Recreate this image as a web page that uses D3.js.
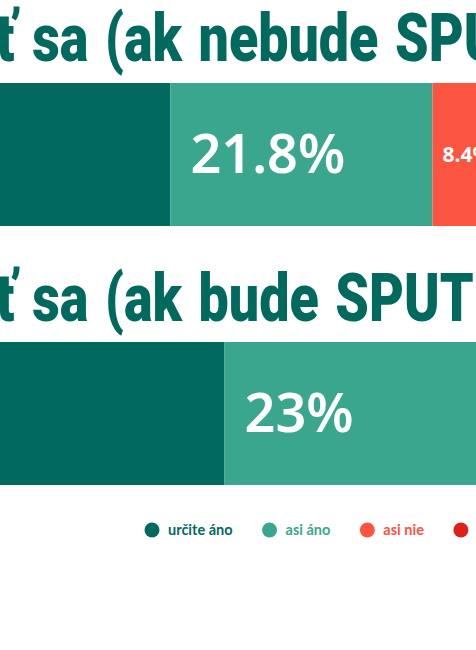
<!DOCTYPE html>
<html>
<head>
<meta charset="utf-8">
<script src="https://cdn.jsdelivr.net/npm/d3@7"></script>
<style>
  html, body { margin: 0; padding: 0; background: #fff; overflow: hidden; }
</style>
</head>
<body>
<div id="chart"></div>
<script>
// data
var categories = ["Zaočkovať sa (ak nebude SPUTNIK)", "Zaočkovať sa (ak bude SPUTNIK)"];
var seriesNames = ["určite áno", "asi áno", "asi nie", "určite nie"];
var urciteAno = [32.4, 36.9];
var asiAno = [21.8, 23];
var asiNie = [8.4, 7.9];
var urciteNie = [37.4, 32.2];

var colors = ["#02695f", "#3ba68e", "#fb5440", "#db2119"];

var W = 476, H = 650;
// chart is wider than the window, left part is off screen
var x0 = -219, fullW = 1202;
var titleScale = 0.815;

var svg = d3.select("#chart").append("svg")
	.attr("width", W)
	.attr("height", H);

var x = d3.scaleLinear().domain([0, 100]).range([x0, x0 + fullW]);

var rows = categories.map(function (c, i) {
	return {cat: c, ano: urciteAno[i], asiAno: asiAno[i], asiNie: asiNie[i], nie: urciteNie[i]};
});
var keys = ["ano", "asiAno", "asiNie", "nie"];
var stack = d3.stack().keys(keys)(rows);

var barTop = [83, 342];
var barH = 143;
var titleY = [61, 321];

// titles (the window shows the chart from the "ť" on)
svg.selectAll("text.title")
	.data(categories)
	.enter().append("text")
	.attr("class", "title")
	.style("font-family", "Roboto")
	.style("font-weight", 900)
	.style("font-size", "66px")
	.style("word-spacing", "4px")
	.style("fill", "#02695f")
	.text(function (d) { return d; })
	.each(function (d, i) {
		var idx = d.indexOf("ť");
		var sx = this.getStartPositionOfChar(idx).x;
		var tx = -4 - sx * titleScale;
		d3.select(this).attr("transform", "translate(" + tx + "," + titleY[i] + ") scale(" + titleScale + ",1)");
	});

// bars
var layer = svg.selectAll("g.layer")
	.data(stack)
	.enter().append("g")
	.attr("class", "layer")
	.attr("fill", function (d, i) { return colors[i]; });

layer.selectAll("rect")
	.data(function (d) { return d; })
	.enter().append("rect")
	.attr("x", function (d) { return x(d[0]); })
	.attr("y", function (d, i) { return barTop[i]; })
	.attr("width", function (d) { return x(d[1]) - x(d[0]); })
	.attr("height", barH);

// labels
layer.selectAll("text")
	.data(function (d) { return d; })
	.enter().append("text")
	.each(function (d, i) {
		var v = d[1] - d[0];
		var w = x(d[1]) - x(d[0]);
		var big = w > 150;
		d3.select(this)
			.attr("x", x(d[0]) + (big ? 20 : 10))
			.attr("y", barTop[i] + barH / 2)
			.attr("dy", "0.35em")
			.style("font-family", "'Noto Sans'")
			.style("font-weight", big ? 600 : 700)
			.style("font-size", big ? "54px" : "21px")
			.style("fill", "#fff")
			.text(d3.format(".3~r")(v) + "%");
	});

// legend
var legend = svg.append("g").attr("transform", "translate(0,530)");
var lx = 152;
seriesNames.forEach(function (name, i) {
	var g = legend.append("g").attr("transform", "translate(" + lx + ",0)");
	g.append("circle").attr("r", 7.5).attr("fill", colors[i]);
	var t = g.append("text")
		.attr("x", 16)
		.attr("dy", "0.35em")
		.style("font-family", "Lato")
		.style("font-weight", 700)
		.style("font-size", "14.5px")
		.style("fill", colors[i])
		.text(name);
	lx += 16 + t.node().getComputedTextLength() + 37;
});
</script>
</body>
</html>
